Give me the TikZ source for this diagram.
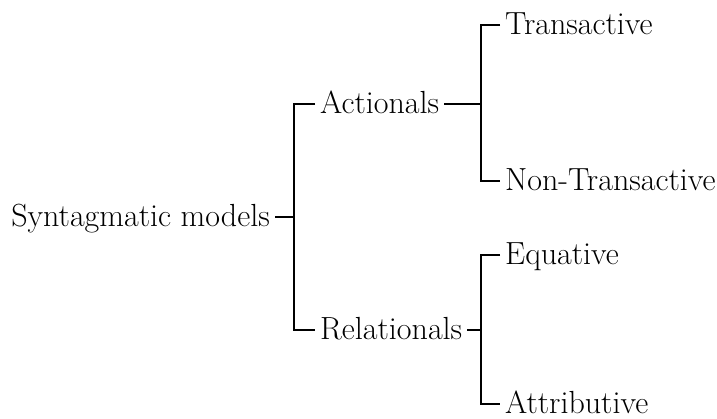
\documentclass[tikz,border=0pt]{standalone}
\usepackage{fontspec}
\begin{document}
\begin{tikzpicture}[x=1pt,y=1pt,
    lbl/.style={inner xsep=5pt, inner ysep=0pt, text height=21pt, text depth=1pt, font=\fontsize{32}{38}\selectfont},
    brk/.style={line width=1.6pt}]
      \useasboundingbox (0,0) rectangle (717,419);
      \node[lbl, anchor=east] (root) at (275,202) {Syntagmatic models};
      \node[lbl, anchor=west] (act) at (315,315) {Actionals};
      \node[lbl, anchor=west] (rel) at (315,89) {Relationals};
      \node[lbl, anchor=west] (tr) at (500,394) {Transactive};
      \node[lbl, anchor=west] (ntr) at (500,238) {Non-Transactive};
      \node[lbl, anchor=west] (eq) at (500,164) {Equative};
      \node[lbl, anchor=west] (att) at (500,15) {Attributive};
      \draw[brk] (act.west) -- ++(-21,0) coordinate (k1) |- (rel.west);
      \draw[brk] (root.east) -- (root.east -| k1);
      \draw[brk] (tr.west) -- ++(-19,0) coordinate (k2) |- (ntr.west);
      \draw[brk] (act.east) -- (act.east -| k2);
      \draw[brk] (eq.west) -- ++(-19,0) coordinate (k3) |- (att.west);
      \draw[brk] (rel.east) -- (rel.east -| k3);
\end{tikzpicture}
\end{document}
